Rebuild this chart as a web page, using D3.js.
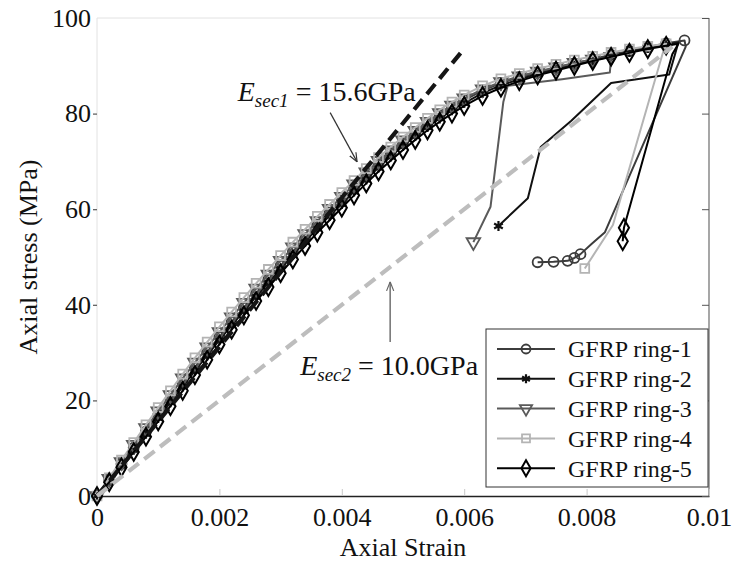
<!DOCTYPE html>
<html>
<head>
<meta charset="utf-8">
<script src="https://cdn.jsdelivr.net/npm/d3@7"></script>
<style>
  html, body { margin: 0; padding: 0; background: #fff; }
  svg { display: block; font-family: "Liberation Serif", "Times New Roman", serif; }
</style>
</head>
<body>
<svg id="chart" width="737" height="569"></svg>
<script>
// ---- data: axial strain (-) vs axial stress (MPa) ----
// strain grid shared by the loading branches
const loadStrain = [0, 0.0002, 0.0004, 0.0006, 0.0008, 0.0010, 0.0012, 0.0014, 0.0016, 0.0018,
  0.0020, 0.0022, 0.0024, 0.0026, 0.0028, 0.0030, 0.0032, 0.0034, 0.0036, 0.0038,
  0.0040, 0.0042, 0.0044, 0.0046, 0.0048, 0.0050, 0.0052, 0.0054, 0.0056, 0.0058,
  0.0060, 0.0063, 0.0066, 0.0069, 0.0072, 0.0075, 0.0078, 0.0081, 0.0084, 0.0087,
  0.0090, 0.0093, 0.0096];

const loadStress1 = [0, 3.3, 6.7, 10.1, 13.5, 16.9, 20.2, 23.6, 26.9, 30.1, 33.3, 36.4, 39.4, 42.4,
  45.3, 48.2, 51.1, 53.9, 56.7, 59.3, 61.8, 64.4, 67.0, 69.4, 71.7, 73.8, 75.9, 77.8, 79.6, 81.3,
  82.8, 84.8, 86.4, 87.6, 88.6, 89.6, 90.5, 91.4, 92.3, 93.1, 93.9, 94.7, 95.3];
const loadStress2 = [0, 3.1, 6.4, 9.7, 13.0, 16.3, 19.6, 22.9, 26.2, 29.4, 32.6, 35.7, 38.7, 41.7,
  44.6, 47.5, 50.4, 53.2, 56.0, 58.6, 61.1, 63.7, 66.2, 68.7, 71.0, 73.2, 75.3, 77.2, 79.0, 80.7,
  82.2, 84.3, 85.9, 87.2, 88.3, 89.3, 90.2, 91.1, 92.0, 92.9, 93.7, 94.4];
const loadStress3 = [0, 3.6, 7.1, 10.7, 14.2, 17.7, 21.1, 24.6, 27.9, 31.1, 34.3, 37.4, 40.4, 43.4,
  46.3, 49.2, 52.0, 54.8, 57.5, 60.1, 62.6, 65.2, 67.7, 70.1, 72.3, 74.4, 76.4, 78.3, 80.1, 81.7,
  83.2, 85.1, 86.6, 87.8, 88.8, 89.7, 90.6, 91.3, 91.8];
const loadStress4 = [0, 3.8, 7.5, 11.2, 14.9, 18.5, 22.0, 25.5, 28.9, 32.2, 35.4, 38.5, 41.5, 44.5,
  47.4, 50.3, 53.1, 55.8, 58.5, 61.0, 63.5, 66.0, 68.5, 70.8, 73.0, 75.1, 77.1, 79.0, 80.8, 82.4,
  83.9, 85.8, 87.3, 88.4, 89.4, 90.3, 91.2, 92.0, 92.8, 93.5, 94.1, 94.6];
const loadStress5 = [0, 2.9, 6.0, 9.2, 12.4, 15.6, 18.8, 22.0, 25.3, 28.5, 31.7, 34.8, 37.8, 40.8,
  43.7, 46.6, 49.5, 52.3, 55.1, 57.7, 60.3, 62.9, 65.4, 67.9, 70.2, 72.4, 74.5, 76.5, 78.3, 80.0,
  81.6, 83.7, 85.4, 86.8, 88.0, 89.0, 90.0, 91.0, 91.9, 92.7, 93.5, 94.2];

// post-peak (unloading / failure) branches
const tailStrain1 = [0.00962, 0.0083, 0.00808, 0.0079, 0.0078, 0.00769, 0.00746, 0.0072];
const tailStress1 = [94.0, 55.2, 52.7, 50.6, 49.8, 49.2, 49.0, 48.9];
const tailStrain2 = [0.0095, 0.00935, 0.0084, 0.00775, 0.00725, 0.00704, 0.00656];
const tailStress2 = [94.9, 88.2, 86.4, 78.5, 73.0, 62.3, 56.5];
const tailStrain3 = [0.00838, 0.0076, 0.00671, 0.00664, 0.00643, 0.00615];
const tailStress3 = [88.6, 87.2, 85.8, 82.5, 60.5, 53.1];
const tailStrain4 = [0.00925, 0.00843, 0.00797];
const tailStress4 = [92.9, 56.7, 47.6];
const tailStrain5 = [0.0095, 0.0094, 0.00861, 0.00859];
const tailStress5 = [94.6, 92.4, 56.1, 53.3];

const seriesNames = ["GFRP ring-1", "GFRP ring-2", "GFRP ring-3", "GFRP ring-4", "GFRP ring-5"];

// secant moduli (GPa) and the strain each secant line is drawn to
const secantModulus = [15.6, 10.0];
const secantEndStrain = [0.006, 0.0094];

const xTicks = [0, 0.002, 0.004, 0.006, 0.008, 0.01];
const xTickLabels = ["0", "0.002", "0.004", "0.006", "0.008", "0.01"];
const yTicks = [0, 20, 40, 60, 80, 100];
const yTickLabels = ["0", "20", "40", "60", "80", "100"];

// ---- assemble series ----
const loads = [loadStress1, loadStress2, loadStress3, loadStress4, loadStress5];
const tails = [[tailStrain1, tailStress1], [tailStrain2, tailStress2], [tailStrain3, tailStress3],
               [tailStrain4, tailStress4], [tailStrain5, tailStress5]];
const tailMarked = [5, 1, 1, 1, 2];   // markers on the last points of each tail
const styles = [
  { color: "#3c3c3c", symbol: "circle" },
  { color: "#111111", symbol: "asterisk" },
  { color: "#5a5a5a", symbol: "triangleDown" },
  { color: "#b4b4b4", symbol: "square" },
  { color: "#000000", symbol: "diamond" }
];

const series = loads.map((ls, i) => {
  const load = ls.map((s, k) => ({ e: loadStrain[k], s: s, mark: true }));
  const [te, ts] = tails[i];
  const tail = te.map((e, k) => ({ e: e, s: ts[k], mark: k >= te.length - tailMarked[i] }));
  return { name: seriesNames[i], pts: load.concat(tail), style: styles[i] };
});

// ---- layout ----
const svg = d3.select("#chart");
const plotL = 97, plotR = 709, plotT = 18, plotB = 496;
const x = d3.scaleLinear().domain([0, 0.01]).range([plotL, plotR]);
const y = d3.scaleLinear().domain([0, 100]).range([plotB, plotT]);

// frame: faint top/left, dark bottom, grey right
svg.append("line").attr("x1", plotL).attr("x2", plotR).attr("y1", plotT).attr("y2", plotT)
  .attr("stroke", "#e2e2e2").attr("stroke-width", 1);
svg.append("line").attr("x1", plotL).attr("x2", plotL).attr("y1", plotT).attr("y2", plotB)
  .attr("stroke", "#e2e2e2").attr("stroke-width", 1);
svg.append("line").attr("x1", plotR).attr("x2", plotR).attr("y1", plotT).attr("y2", plotB)
  .attr("stroke", "#777").attr("stroke-width", 1.3);

// axes
const fontSize = 26;
const xAxis = d3.axisBottom(x).tickValues(xTicks)
  .tickFormat((d, i) => xTickLabels[i]).tickSizeInner(-7).tickSizeOuter(0).tickPadding(12);
const gx = svg.append("g").attr("transform", `translate(0,${plotB})`).call(xAxis);
gx.select(".domain").attr("stroke", "#222").attr("stroke-width", 1.3);
gx.selectAll(".tick line").attr("stroke", "#c8c8c8");
gx.selectAll(".tick text").attr("font-size", fontSize).attr("fill", "#111")
  .attr("font-family", "Liberation Serif");

const yAxis = d3.axisLeft(y).tickValues(yTicks)
  .tickFormat((d, i) => yTickLabels[i]).tickSizeInner(4).tickSizeOuter(0).tickPadding(2);
const gy = svg.append("g").attr("transform", `translate(${plotL},0)`).call(yAxis);
gy.select(".domain").remove();
gy.selectAll(".tick line").attr("stroke", "#555").attr("stroke-width", 1.2);
gy.selectAll(".tick").filter(d => d === 100).select("line").remove();
gy.selectAll(".tick text").attr("font-size", fontSize).attr("fill", "#111")
  .attr("font-family", "Liberation Serif");

const yAxisR = d3.axisRight(y).tickValues(yTicks).tickFormat("").tickSizeInner(-7).tickSizeOuter(0);
const gyr = svg.append("g").attr("transform", `translate(${plotR},0)`).call(yAxisR);
gyr.select(".domain").remove();
gyr.selectAll(".tick line").attr("stroke", "#555");

// axis titles
svg.append("text").attr("x", (plotL + plotR) / 2).attr("y", 556)
  .attr("text-anchor", "middle").attr("font-size", fontSize).attr("fill", "#111")
  .text("Axial Strain");
svg.append("text").attr("transform", `translate(37,${(plotT + plotB) / 2}) rotate(-90)`)
  .attr("text-anchor", "middle").attr("font-size", fontSize).attr("fill", "#111")
  .text("Axial stress (MPa)");

// ---- marker shapes ----
function drawMarker(g, type, color, cx, cy, scale) {
  const k = scale || 1;
  if (type === "circle") {
    g.append("circle").attr("cx", cx).attr("cy", cy).attr("r", 5 * k)
      .attr("fill", "none").attr("stroke", color).attr("stroke-width", 1.8);
  } else if (type === "asterisk") {
    g.append("path").attr("transform", `translate(${cx},${cy})`)
      .attr("d", d3.symbol(d3.symbolAsterisk, 70 * k * k)())
      .attr("fill", "none").attr("stroke", color).attr("stroke-width", 2.2);
  } else if (type === "triangleDown") {
    g.append("path").attr("transform", `translate(${cx},${cy}) rotate(180)`)
      .attr("d", d3.symbol(d3.symbolTriangle, 80 * k * k)())
      .attr("fill", "none").attr("stroke", color).attr("stroke-width", 1.8);
  } else if (type === "square") {
    g.append("path").attr("transform", `translate(${cx},${cy})`)
      .attr("d", d3.symbol(d3.symbolSquare, 78 * k * k)())
      .attr("fill", "none").attr("stroke", color).attr("stroke-width", 1.8);
  } else if (type === "diamond") {
    g.append("path").attr("transform", `translate(${cx},${cy})`)
      .attr("d", d3.symbol(d3.symbolDiamond, 90 * k * k)())
      .attr("fill", "none").attr("stroke", color).attr("stroke-width", 2);
  }
}

// ---- curves ----
const line = d3.line().x(d => x(d.e)).y(d => y(d.s));
const gCurves = svg.append("g");
series.forEach(sr => {
  const g = gCurves.append("g");
  g.append("path").datum(sr.pts).attr("d", line)
    .attr("fill", "none").attr("stroke", sr.style.color).attr("stroke-width", 2)
    .attr("stroke-linejoin", "round");
  sr.pts.filter(p => p.mark).forEach(p => drawMarker(g, sr.style.symbol, sr.style.color, x(p.e), y(p.s)));
});

// ---- secant lines ----
const secColors = ["#151515", "#bdbdbd"];
secantModulus.forEach((E, i) => {
  const e1 = secantEndStrain[i];
  const pts = [{ e: 0, s: 0 }, { e: e1, s: E * 1000 * e1 }];
  svg.append("path").datum(pts).attr("d", line)
    .attr("fill", "none").attr("stroke", secColors[i]).attr("stroke-width", 4.2)
    .attr("stroke-dasharray", "13,7");
});

// ---- annotations ----
const defs = svg.append("defs");
[["arrDark", "#333"], ["arrGrey", "#666"]].forEach(([id, c]) => {
  defs.append("marker").attr("id", id).attr("viewBox", "0 0 10 10").attr("refX", 10).attr("refY", 5)
    .attr("markerWidth", 9).attr("markerHeight", 9).attr("orient", "auto").attr("markerUnits", "userSpaceOnUse")
    .append("path").attr("d", "M0,1 L10,5 L0,9").attr("fill", "none").attr("stroke", c).attr("stroke-width", 1.3);
});

svg.append("line")
  .attr("x1", x(0.00381)).attr("y1", y(80.2)).attr("x2", x(0.00425)).attr("y2", y(69.9))
  .attr("stroke", "#333").attr("stroke-width", 1.2).attr("marker-end", "url(#arrDark)");
svg.append("line")
  .attr("x1", x(0.00479)).attr("y1", y(32.2)).attr("x2", x(0.00479)).attr("y2", y(44.8))
  .attr("stroke", "#666").attr("stroke-width", 1.4).attr("marker-end", "url(#arrGrey)");

function secantLabel(ex, sy, sub, E) {
  const t = svg.append("text").attr("x", x(ex)).attr("y", y(sy)).attr("fill", "#111");
  t.append("tspan").attr("font-style", "italic").attr("font-size", 28).text("E");
  t.append("tspan").attr("font-style", "italic").attr("font-size", 19).attr("dy", 6).text(sub);
  t.append("tspan").attr("font-size", 28).attr("dy", -6).text(" = " + E.toFixed(1) + "GPa");
}
secantLabel(0.0023, 82.6, "sec1", secantModulus[0]);
secantLabel(0.00332, 25.3, "sec2", secantModulus[1]);

// ---- legend ----
const lg = svg.append("g");
lg.append("rect").attr("x", 486).attr("y", 329).attr("width", 222).attr("height", 158)
  .attr("fill", "#fff").attr("stroke", "#333").attr("stroke-width", 1);
series.forEach((sr, i) => {
  const cy = 349 + i * 29.8;
  lg.append("line").attr("x1", 497).attr("x2", 555).attr("y1", cy).attr("y2", cy)
    .attr("stroke", sr.style.color).attr("stroke-width", 2);
  drawMarker(lg, sr.style.symbol, sr.style.color, 526, cy, 0.9);
  lg.append("text").attr("x", 568).attr("y", cy).attr("dy", "0.35em")
    .attr("font-size", 24).attr("fill", "#111").text(sr.name);
});
</script>
</body>
</html>
